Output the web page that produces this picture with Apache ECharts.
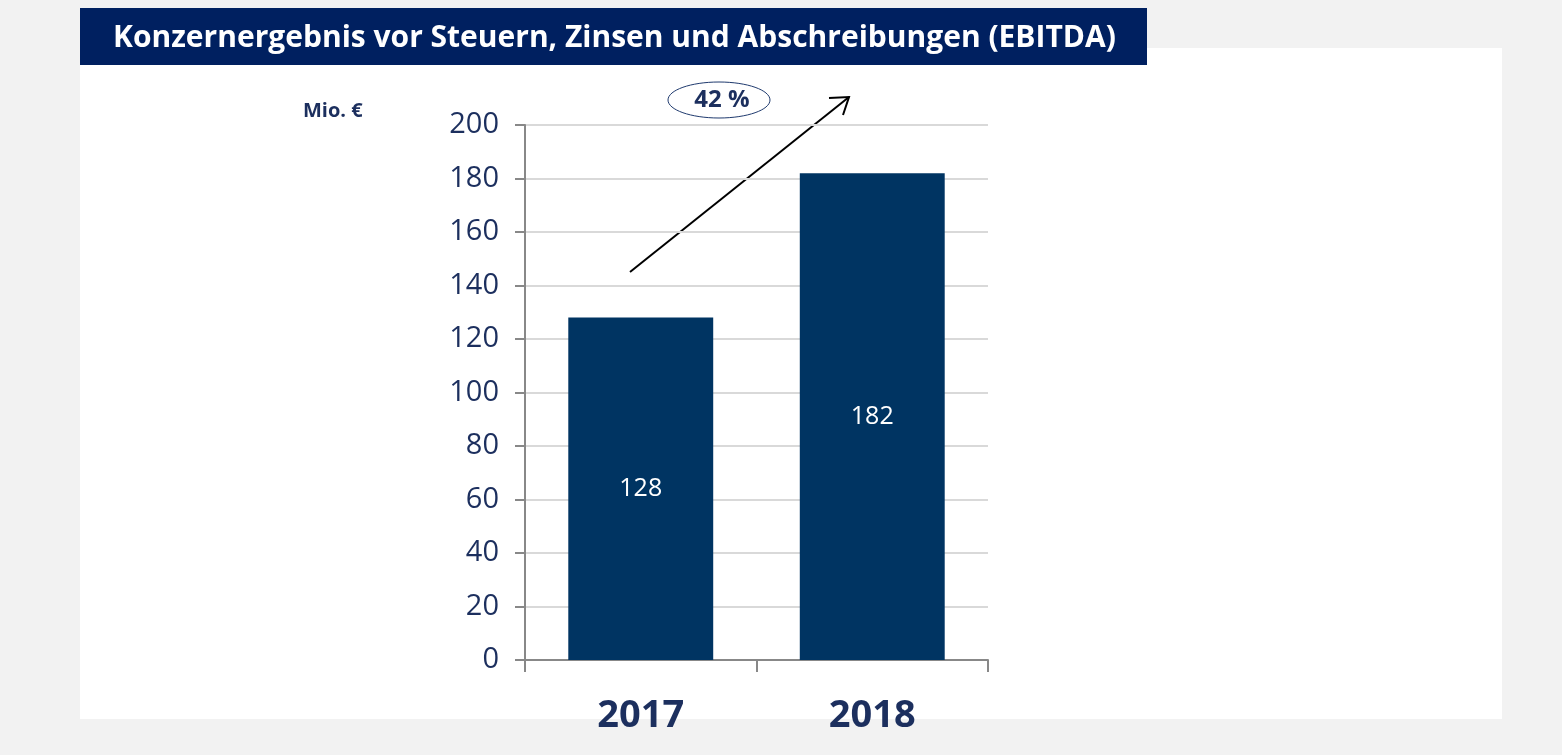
<!DOCTYPE html>
<html>
<head>
<meta charset="utf-8">
<script src="https://cdn.jsdelivr.net/npm/echarts@6/dist/echarts.min.js"></script>
<style>
  html, body { margin: 0; padding: 0; background: #f2f2f2; }
  #chart { width: 1562px; height: 755px; }
</style>
</head>
<body>
<div id="chart"></div>
<script>
const years = ['2017', '2018']
const ebitda = [128, 182]
const growthLabel = '42 %'
const titleText = 'Konzernergebnis vor Steuern, Zinsen und Abschreibungen (EBITDA)'

const navy = '#1c2f5e'
const chart = echarts.init(document.getElementById('chart'))

chart.setOption({
  backgroundColor: '#f2f2f2',
  animation: false,
  grid: { left: 525, right: 574, top: 125, bottom: 95 },
  graphic: [
    // white panel
    { type: 'rect', z: -10, shape: { x: 80, y: 48, width: 1422, height: 671 }, style: { fill: '#ffffff' } },
    // title bar
    { type: 'rect', z: -5, shape: { x: 80, y: 8, width: 1067, height: 57 }, style: { fill: '#002060' } },
    {
      type: 'text', x: 113, y: 38,
      style: { text: titleText, fill: '#ffffff', font: 'bold 30px "Open Sans"', verticalAlign: 'middle' }
    },
    {
      type: 'text', x: 303, y: 111,
      style: { text: 'Mio. €', fill: navy, font: 'bold 20px "Open Sans"', verticalAlign: 'middle' }
    },
    // growth ellipse
    {
      type: 'ellipse', shape: { cx: 719, cy: 100, rx: 51, ry: 18 },
      style: { fill: '#ffffff', stroke: '#1f3a6e', lineWidth: 1 }
    },
    {
      type: 'text', x: 722, y: 100,
      style: { text: growthLabel, fill: navy, font: 'bold 24px "Open Sans"', align: 'center', verticalAlign: 'middle' }
    },
    // arrow
    {
      type: 'line', shape: { x1: 630, y1: 272, x2: 849, y2: 97 },
      style: { stroke: '#000', lineWidth: 2 }
    },
    {
      type: 'polyline', shape: { points: [[829, 98], [849, 97], [843, 115]] },
      style: { stroke: '#000', lineWidth: 2, fill: null }
    }
  ],
  xAxis: {
    type: 'category',
    data: years,
    axisLine: { lineStyle: { color: '#888888', width: 2 } },
    axisTick: { show: true, length: 12, lineStyle: { color: '#888888', width: 2 } },
    axisLabel: { color: navy, fontSize: 38, fontWeight: 'bold', fontFamily: 'Open Sans', margin: 37 }
  },
  yAxis: {
    type: 'value',
    min: 0, max: 200, interval: 20,
    axisLine: { show: true, lineStyle: { color: '#888888', width: 2 } },
    axisTick: { show: true, length: 10, lineStyle: { color: '#888888', width: 2 } },
    axisLabel: { color: navy, fontSize: 29, fontFamily: 'Open Sans', margin: 26 },
    splitLine: { lineStyle: { color: '#d9d9d9', width: 2 } }
  },
  series: [{
    type: 'bar',
    data: ebitda,
    barWidth: '62.6%',
    itemStyle: { color: '#003462' },
    label: {
      show: true, position: 'inside',
      color: '#ffffff', fontSize: 25, fontFamily: 'Open Sans'
    }
  }]
})
</script>
</body>
</html>
